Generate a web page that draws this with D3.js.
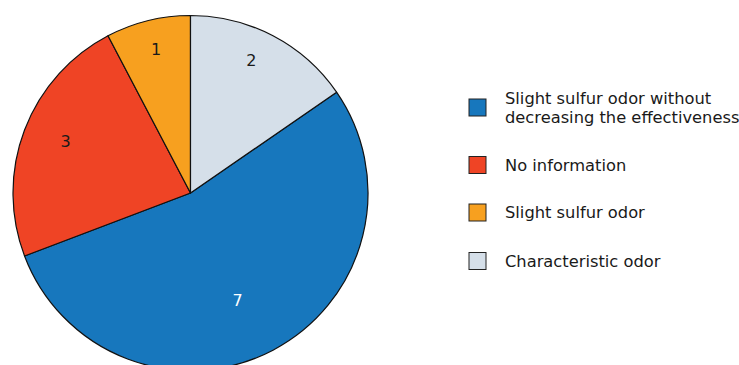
<!DOCTYPE html>
<html>
<head>
<meta charset="utf-8">
<script src="https://cdn.jsdelivr.net/npm/d3@7"></script>
<style>
  html, body { margin: 0; padding: 0; background: #fff; }
  svg { display: block; }
  text { font-family: "DejaVu Sans", sans-serif; }
</style>
</head>
<body>
<svg id="chart" width="739" height="365"></svg>
<script>
// Odor assessment counts
const categories = [
  "Slight sulfur odor without decreasing the effectiveness",
  "No information",
  "Slight sulfur odor",
  "Characteristic odor"
];
const legendLines = [
  ["Slight sulfur odor without", "decreasing the effectiveness"],
  ["No information"],
  ["Slight sulfur odor"],
  ["Characteristic odor"]
];
const values = [7, 3, 1, 2];
const colors = ["#1777bd", "#ef4425", "#f7a01f", "#d5dfe9"];
const labelColors = ["#ffffff", "#1a1a1a", "#1a1a1a", "#1a1a1a"];
// label placement along each slice: radius fraction and angular nudge (degrees)
const labelRadius = [0.66, 0.76, 0.83, 0.82];
const labelNudge = [4, 1.5, 0.3, -3];

const svg = d3.select("#chart");
const cx = 190.5, cy = 193, r = 177.5;

const total = d3.sum(values);
const pie = d3.pie()
  .sort(null)
  .value(d => d)
  .startAngle(2 * Math.PI * values[3] / total)
  .endAngle(2 * Math.PI + 2 * Math.PI * values[3] / total);

const arcs = pie(values);
const arc = d3.arc().innerRadius(0).outerRadius(r);

const g = svg.append("g").attr("transform", `translate(${cx},${cy})`);

g.selectAll("path.slice")
  .data(arcs)
  .join("path")
  .attr("class", "slice")
  .attr("d", arc)
  .attr("fill", (d, i) => colors[i])
  .attr("stroke", "#111")
  .attr("stroke-width", 1.2)
  .attr("stroke-linejoin", "round");

g.selectAll("text.val")
  .data(arcs)
  .join("text")
  .attr("class", "val")
  .attr("transform", (d, i) => {
    const a = (d.startAngle + d.endAngle) / 2 + labelNudge[i] * Math.PI / 180;
    const [x, y] = d3.pointRadial(a, r * labelRadius[i]);
    return `translate(${x},${y})`;
  })
  .attr("text-anchor", "middle")
  .attr("dominant-baseline", "central")
  .attr("font-size", 16)
  .attr("fill", (d, i) => labelColors[i])
  .text(d => d.data);

// Legend
const legendY = d3.scaleOrdinal()
  .domain(categories)
  .range([107.5, 165, 212.5, 261]);

const lg = svg.append("g");
const items = lg.selectAll("g.item")
  .data(categories)
  .join("g")
  .attr("class", "item")
  .attr("transform", d => `translate(469,${legendY(d)})`);

items.append("rect")
  .attr("x", 0)
  .attr("y", -8.5)
  .attr("width", 17)
  .attr("height", 17)
  .attr("fill", (d, i) => colors[i])
  .attr("stroke", "#222")
  .attr("stroke-width", 1);

items.each(function(d, i) {
  const lines = legendLines[i];
  const t = d3.select(this).append("text")
    .attr("x", 36)
    .attr("font-size", 16.3)
    .attr("fill", "#1a1a1a");
  const lh = 19.5;
  const y0 = -((lines.length - 1) * lh) / 2 + 5.8;
  lines.forEach((ln, k) => {
    t.append("tspan").attr("x", 36).attr("y", y0 + k * lh).text(ln);
  });
});
</script>
</body>
</html>
